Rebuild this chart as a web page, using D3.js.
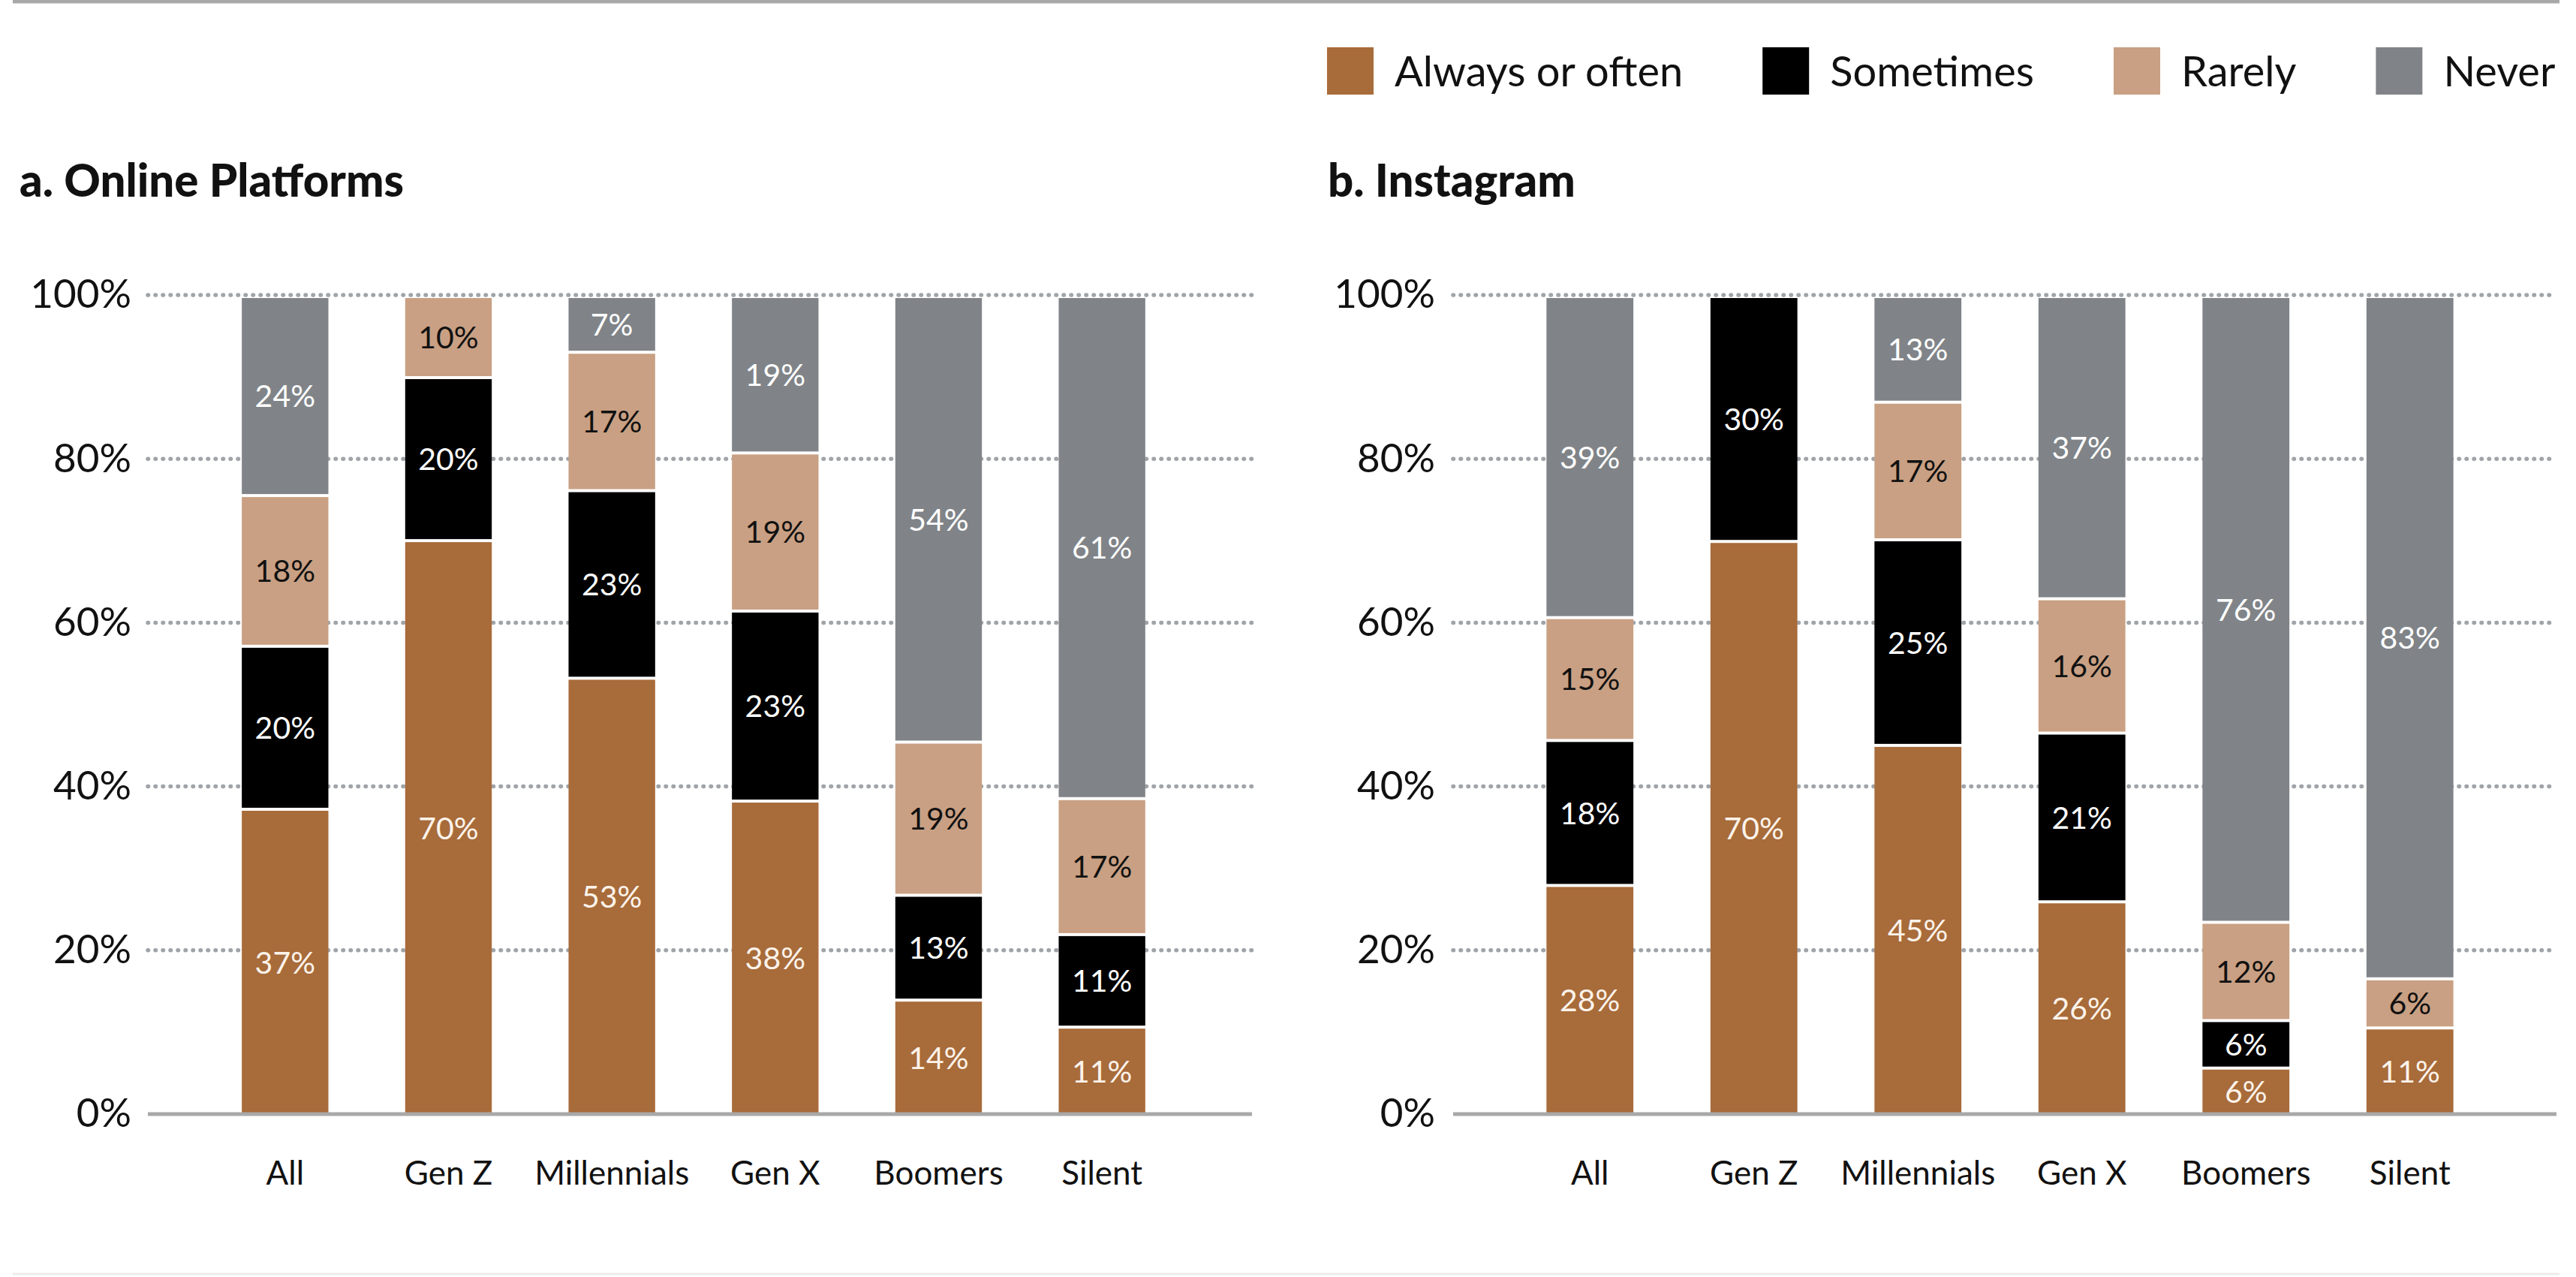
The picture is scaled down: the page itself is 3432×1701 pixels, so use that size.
<!DOCTYPE html>
<html>
<head>
<meta charset="utf-8">
<script src="https://cdn.jsdelivr.net/npm/d3@7"></script>
<style>
  body { margin: 0; background: #fff; }
  svg { display: block; font-family: Lato, "Noto Sans", sans-serif; }
</style>
</head>
<body>
<div id="chart"></div>
<script>
// categories and series
const categories = ['All', 'Gen Z', 'Millennials', 'Gen X', 'Boomers', 'Silent'];
const seriesKeys = ['always', 'sometimes', 'rarely', 'never'];
const seriesNames = ['Always or often', 'Sometimes', 'Rarely', 'Never'];
const seriesColors = ['#a86b3a', '#000000', '#c9a083', '#808488'];
const labelColors = ['#fbf3ea', '#ffffff', '#111111', '#ffffff'];
const yTicks = [0, 20, 40, 60, 80, 100];

// a. Online Platforms (share of respondents, %)
const onlineAlways    = [37.4, 70.2, 53.4, 38.4, 14.1, 10.8];
const onlineSometimes = [19.9, 19.9, 22.9, 23.2, 12.8, 11.3];
const onlineRarely    = [18.4,  9.9, 16.9, 19.3, 18.7, 16.6];
const onlineNever     = [24.3,  0.0,  6.8, 19.1, 54.4, 61.3];

// b. Instagram (share of respondents, %)
const instaAlways    = [28.1, 70.1, 45.2, 26.1,  5.8, 10.7];
const instaSometimes = [17.7, 29.9, 25.1, 20.6,  5.8,  0.0];
const instaRarely    = [15.0,  0.0, 16.8, 16.4, 12.0,  6.0];
const instaNever     = [39.2,  0.0, 12.9, 36.9, 76.4, 83.3];

const width = 3432, height = 1701;

const svg = d3.select('#chart')
  .append('svg')
  .attr('width', width)
  .attr('height', height);

// top and bottom rules
svg.append('line')
  .attr('x1', 17).attr('x2', 3410).attr('y1', 2).attr('y2', 2)
  .style('stroke', '#a8a8a8').style('stroke-width', 5);
svg.append('line')
  .attr('x1', 17).attr('x2', 3410).attr('y1', 1697).attr('y2', 1697)
  .style('stroke', '#ececec').style('stroke-width', 3);

// legend (flows left to right)
const legend = svg.append('g').attr('class', 'legend');
let lx = 1768;
seriesNames.forEach((name, i) => {
  legend.append('rect')
    .attr('x', lx).attr('y', 63)
    .attr('width', 62).attr('height', 63)
    .style('fill', seriesColors[i]);
  const t = legend.append('text')
    .attr('x', lx + 90).attr('y', 115)
    .style('font-size', '56px')
    .style('fill', '#111')
    .text(name);
  lx += 90 + t.node().getComputedTextLength() + 106;
});

function buildRows(always, sometimes, rarely, never) {
  return categories.map((c, i) => ({
    cat: c, always: always[i], sometimes: sometimes[i], rarely: rarely[i], never: never[i]
  }));
}

function drawPanel(opts) {
  const g = svg.append('g').attr('class', 'panel');
  const rows = buildRows(...opts.values);

  const y = d3.scaleLinear().domain([0, 100]).range([1484, 393]);
  const x = d3.scaleBand()
    .domain(categories)
    .range(opts.bandRange)
    .paddingInner(0.47)
    .paddingOuter(0.235);

  // title
  g.append('text')
    .attr('x', opts.titleX).attr('y', 262)
    .style('font-size', '60px')
    .style('font-weight', 900)
    .style('fill', '#111')
    .text(opts.title);

  // dotted gridlines
  g.selectAll('.grid')
    .data(yTicks.filter(d => d > 0))
    .enter().append('line')
    .attr('class', 'grid')
    .attr('x1', opts.gridRange[0]).attr('x2', opts.gridRange[1])
    .attr('y1', d => y(d)).attr('y2', d => y(d))
    .style('stroke', '#a0a4a8')
    .style('stroke-width', 5.5)
    .style('stroke-dasharray', '0.5 9.5')
    .style('stroke-linecap', 'round');

  // y axis labels
  const yAxis = g.append('g')
    .attr('transform', `translate(${opts.gridRange[0]},0)`)
    .call(d3.axisLeft(y).tickValues(yTicks).tickSize(0).tickPadding(opts.tickPad).tickFormat(d => d + '%'));
  yAxis.select('.domain').remove();
  yAxis.selectAll('text')
    .style('font-size', '53px')
    .style('font-family', 'Lato, "Noto Sans", sans-serif')
    .style('fill', '#111');

  // stacked bars
  const stacked = d3.stack().keys(seriesKeys)(rows);
  const gap = 4;
  stacked.forEach((layer, li) => {
    const lg = g.append('g').attr('class', 'layer-' + layer.key);
    const segs = layer.filter(d => d[1] - d[0] > 0);
    lg.selectAll('rect')
      .data(segs)
      .enter().append('rect')
      .attr('x', d => x(d.data.cat))
      .attr('width', x.bandwidth())
      .attr('y', d => y(d[1]) + gap)
      .attr('height', d => Math.max(0, y(d[0]) - y(d[1]) - gap))
      .style('fill', seriesColors[li]);

    lg.selectAll('text')
      .data(segs)
      .enter().append('text')
      .attr('x', d => x(d.data.cat) + x.bandwidth() / 2)
      .attr('y', d => (y(d[1]) + gap + y(d[0])) / 2)
      .attr('dy', '0.36em')
      .style('text-anchor', 'middle')
      .style('font-size', '41px')
      .style('fill', labelColors[li])
      .text(d => Math.round(d[1] - d[0]) + '%');
  });

  // baseline
  g.append('line')
    .attr('x1', opts.gridRange[0]).attr('x2', opts.gridRange[1])
    .attr('y1', y(0)).attr('y2', y(0))
    .style('stroke', '#a8a8a8')
    .style('stroke-width', 5);

  // category labels
  const xAxis = g.append('g')
    .attr('transform', `translate(0,${y(0)})`)
    .call(d3.axisBottom(x).tickSize(0).tickPadding(63));
  xAxis.select('.domain').remove();
  xAxis.selectAll('text')
    .style('font-size', '44px')
    .style('font-family', 'Lato, "Noto Sans", sans-serif')
    .style('fill', '#111');
}

drawPanel({
  title: 'a. Online Platforms',
  titleX: 26,
  values: [onlineAlways, onlineSometimes, onlineRarely, onlineNever],
  bandRange: [271, 1577],
  gridRange: [197, 1668],
  tickPad: 22
});

drawPanel({
  title: 'b. Instagram',
  titleX: 1769,
  values: [instaAlways, instaSometimes, instaRarely, instaNever],
  bandRange: [2009, 3320],
  gridRange: [1936, 3406],
  tickPad: 24
});
</script>
</body>
</html>
